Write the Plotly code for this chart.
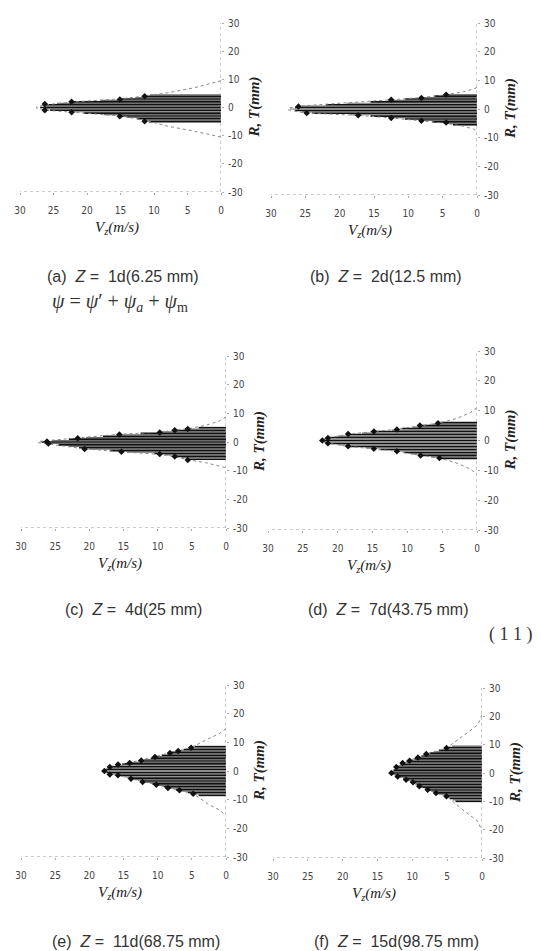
import plotly.graph_objects as go

# ---------------- data ----------------
panel_keys = ["a", "b", "c", "d", "e", "f"]
captions = {
    "a": "(a)  <i>Z</i> =  1d(6.25 mm)",
    "b": "(b)  <i>Z</i> =  2d(12.5 mm)",
    "c": "(c)  <i>Z</i> =  4d(25 mm)",
    "d": "(d)  <i>Z</i> =  7d(43.75 mm)",
    "e": "(e)  <i>Z</i> =  11d(68.75 mm)",
    "f": "(f)  <i>Z</i> =  15d(98.75 mm)",
}
x_ticks = [30, 25, 20, 15, 10, 5, 0]
y_ticks = [-30, -20, -10, 0, 10, 20, 30]

# radial positions (mm) of the measurement lines and the velocity (m/s) reached
R_a = [-5, -4.5, -4, -3.5, -3, -2.5, -2, -1.5, -1, -0.5, 0, 0.5, 1, 1.5, 2, 2.5, 3, 3.5, 4, 4.5]
V_a = [10.8, 11.4, 12.5, 14.0, 15.3, 17.5, 20.5, 22.3, 25.5, 26.4, 27.0, 26.5, 26.2, 24.5, 22.2, 18.0, 15.0, 12.8, 11.4, 10.6]

R_b = [-5.5, -5, -4.5, -4, -3.5, -3, -2.5, -2, -1.5, -1, -0.5, 0, 0.5, 1, 1.5, 2, 2.5, 3, 3.5, 4, 4.5, 5]
V_b = [3.5, 4.5, 6.5, 8.1, 10.5, 12.6, 15.5, 18.5, 24.0, 25.5, 26.5, 27.2, 26.5, 25.5, 22.0, 19.0, 15.5, 13.0, 10.5, 8.0, 6.2, 4.5]

R_c = [-6, -5.5, -5, -4.5, -4, -3.5, -3, -2.5, -2, -1.5, -1, -0.5, 0, 0.5, 1, 1.5, 2, 2.5, 3, 3.5, 4, 4.5, 5]
V_c = [5.8, 6.5, 7.5, 9.0, 10.5, 14.5, 17.0, 20.0, 21.5, 23.0, 24.5, 26.0, 27.0, 25.5, 23.0, 20.5, 18.0, 16.0, 12.5, 9.7, 7.8, 5.6, 4.0]

R_d = [-6, -5.5, -5, -4.5, -4, -3.5, -3, -2.5, -2, -1.5, -1, -0.5, 0, 0.5, 1, 1.5, 2, 2.5, 3, 3.5, 4, 4.5, 5, 5.5, 6]
V_d = [5.2, 6.6, 8.1, 9.5, 10.5, 11.7, 14.0, 16.0, 18.2, 19.8, 21.2, 22.0, 22.5, 22.0, 21.2, 20.0, 18.5, 16.5, 14.8, 12.2, 10.8, 9.2, 8.0, 6.4, 5.2]

R_e = [-8.5, -8, -7.5, -7, -6.5, -6, -5.5, -5, -4.5, -4, -3.5, -3, -2.5, -2, -1.5, -1, -0.5, 0,
       0.5, 1, 1.5, 2, 2.5, 3, 3.5, 4, 4.5, 5, 5.5, 6, 6.5, 7, 7.5, 8, 8.5]
V_e = [4.0, 4.7, 5.6, 6.4, 7.3, 8.4, 9.1, 9.9, 10.8, 11.8, 12.6, 13.4, 14.3, 15.0, 15.8, 17.0, 17.5, 17.8,
       17.6, 17.3, 16.9, 16.2, 15.2, 13.9, 12.8, 12.0, 11.0, 10.3, 9.4, 8.6, 7.9, 7.0, 6.2, 5.3, 4.6]

R_f = [-10, -9.5, -9, -8.5, -8, -7.5, -7, -6.5, -6, -5.5, -5, -4.5, -4, -3.5, -3, -2.5, -2, -1.5, -1, -0.5, 0,
       0.5, 1, 1.5, 2, 2.5, 3, 3.5, 4, 4.5, 5, 5.5, 6, 6.5, 7, 7.5, 8, 8.5, 9, 9.5]
V_f = [3.8, 4.2, 4.6, 4.9, 5.4, 6.2, 6.7, 7.2, 7.7, 8.2, 8.7, 9.1, 9.5, 9.8, 10.3, 10.8, 11.3, 11.8, 12.3, 12.7, 13.0,
       12.9, 12.7, 12.5, 12.3, 12.0, 11.7, 11.4, 10.8, 10.2, 9.7, 9.2, 8.7, 8.2, 7.5, 6.9, 6.2, 5.5, 4.9, 4.3]

# marked measurement points
MV_a = [26.3, 26.3, 22.3, 22.3, 15.1, 15.1, 11.4, 11.4]
MR_a = [1.2, -1.0, 2.0, -1.7, 2.8, -3.1, 4.0, -4.9]
MV_b = [26.0, 24.8, 17.3, 12.5, 12.5, 8.1, 8.1, 4.5, 4.5]
MR_b = [0.9, -1.4, -2.2, 3.2, -3.1, 3.8, -4.1, 5.0, -4.7]
MV_c = [26.2, 26.0, 21.7, 20.7, 15.6, 15.3, 9.7, 9.7, 7.5, 7.5, 5.6, 5.6]
MR_c = [0.2, -0.5, 1.3, -2.4, 2.6, -3.4, 3.3, -4.2, 4.1, -5.1, 4.5, -6.3]
MV_d = [22.2, 21.4, 21.4, 18.5, 18.5, 14.8, 14.8, 11.5, 11.5, 8.2, 8.1, 5.6, 5.4]
MR_d = [0.0, 0.8, -0.9, 2.2, -1.9, 3.0, -2.8, 3.7, -3.6, 5.0, -5.0, 5.8, -5.9]
MV_e = [17.8, 17.0, 15.8, 14.1, 12.4, 10.4, 8.2, 7.0, 5.1, 17.0, 15.8, 13.9, 12.2, 10.2, 8.5, 6.8, 4.8]
MR_e = [0.0, 1.4, 2.3, 2.8, 3.7, 4.9, 6.3, 7.0, 8.1, -1.2, -1.5, -2.7, -3.8, -4.8, -5.9, -6.7, -7.9]
MV_f = [13.0, 12.3, 11.4, 10.4, 9.2, 8.0, 5.1, 12.1, 10.9, 9.9, 9.0, 7.8, 6.6, 5.1]
MR_f = [0.0, 2.1, 3.5, 4.3, 5.5, 6.7, 8.8, -1.2, -2.4, -3.3, -4.7, -5.9, -7.1, -8.2]

# dotted envelope curves (upper end on the axis, through the tip, to lower end)
EV_a = [0, 1.5, 4, 8, 11.5, 15.5, 22, 26, 27.5, 27.5, 26, 22, 15, 11.4, 8, 4, 1.5, 0]
ER_a = [9.5, 8.5, 7.0, 5.2, 4.0, 3.0, 2.0, 1.0, 0.3, -0.3, -1.0, -1.7, -3.0, -4.5, -6.6, -8.4, -9.6, -10.5]
EV_b = [0, 0.5, 2, 4.5, 8, 12.5, 18, 26, 27.5, 27.5, 25, 17.5, 12.5, 8, 4.5, 2, 0.5, 0]
ER_b = [7.5, 7.0, 6.0, 5.0, 4.0, 3.2, 2.2, 1.0, 0.3, -0.3, -1.4, -2.2, -3.1, -4.1, -5.0, -6.0, -7.0, -7.8]
EV_c = [0, 1, 3, 5.6, 7.5, 9.7, 15.6, 21.7, 26, 27.5, 27.5, 26, 20.7, 15.3, 9.7, 7.5, 5.6, 3, 1, 0]
ER_c = [8.8, 7.3, 5.8, 4.6, 4.1, 3.4, 2.7, 1.4, 0.6, 0.2, -0.2, -0.7, -2.4, -3.4, -4.3, -5.1, -6.2, -7.2, -8.3, -9.0]
EV_d = [0, 1, 3, 5.6, 8.2, 11.5, 14.8, 18.5, 21.4, 22.6, 21.4, 18.5, 14.8, 11.5, 8.1, 5.4, 3, 1, 0]
ER_d = [11.0, 9.3, 7.3, 5.8, 4.9, 3.8, 3.0, 2.1, 0.8, 0.0, -0.9, -2.0, -2.8, -3.6, -5.0, -5.9, -7.5, -9.5, -11.3]
EV_e = [0, 1, 2.6, 5.1, 7, 8.2, 10.4, 12.4, 14.1, 15.8, 17, 18, 17, 15.8, 13.9, 12.2, 10.2, 8.5, 6.8, 4.8, 2.6, 1, 0]
ER_e = [14.8, 13.0, 11.2, 8.2, 7.0, 6.3, 4.9, 3.7, 2.9, 2.3, 1.4, 0.0, -1.2, -1.6, -2.7, -3.8, -4.8, -5.9, -6.8, -7.9, -11.6, -13.5, -15.6]
EV_f = [0, 0.6, 2.5, 5.1, 8, 9.2, 10.4, 11.4, 12.3, 13.1, 12.1, 10.9, 9.9, 9.0, 7.8, 6.6, 5.1, 2.5, 0.6, 0]
ER_f = [20.5, 17.0, 13.5, 8.8, 6.7, 5.5, 4.3, 3.5, 2.1, 0.0, -1.2, -2.4, -3.3, -4.7, -5.9, -7.1, -8.2, -13.5, -17.0, -20.5]

data = {
    "a": (R_a, V_a, MV_a, MR_a, EV_a, ER_a),
    "b": (R_b, V_b, MV_b, MR_b, EV_b, ER_b),
    "c": (R_c, V_c, MV_c, MR_c, EV_c, ER_c),
    "d": (R_d, V_d, MV_d, MR_d, EV_d, ER_d),
    "e": (R_e, V_e, MV_e, MR_e, EV_e, ER_e),
    "f": (R_f, V_f, MV_f, MR_f, EV_f, ER_f),
}

# ---------------- layout geometry (pixels) ----------------
W, H = 541, 951
# left, right, top, bottom of each plotting area
geom = {
    "a": (12, 213, 15, 184),
    "b": (263, 469, 15, 187),
    "c": (13, 218, 348, 520),
    "d": (260, 469, 343, 522),
    "e": (13, 218, 677, 849),
    "f": (265, 474, 680, 850),
}
caption_pos = {"a": (115, 268), "b": (378, 268), "c": (125, 601),
               "d": (380, 601), "e": (128, 933), "f": (388, 933)}
vz_dy = 36

def px(x):
    return x / W

def py(y):
    return 1 - y / H

fig = go.Figure()
layout = dict(width=W, height=H, margin=dict(l=0, r=0, t=0, b=0, autoexpand=False),
              paper_bgcolor="white", plot_bgcolor="white", showlegend=False)
annotations = []
shapes = []

tick_font = dict(family="Liberation Sans Narrow, DejaVu Sans Condensed, Arial Narrow, sans-serif",
                 size=10, color="#444")

for i, k in enumerate(panel_keys, start=1):
    R, V, MV, MR, EV, ER = data[k]
    xa = "x" if i == 1 else f"x{i}"
    ya = "y" if i == 1 else f"y{i}"
    l, r, t, b = geom[k]

    # horizontal measurement lines
    bx, by, gx, gy = [], [], [], []
    for j, (rr, vv) in enumerate(zip(R, V)):
        if j % 2 == 0:
            bx += [0, vv, None]; by += [rr, rr, None]
        else:
            gx += [0, vv, None]; gy += [rr, rr, None]
    fig.add_trace(go.Scatter(x=gx, y=gy, mode="lines", line=dict(color="#6e6e6e", width=1.2),
                             xaxis=xa, yaxis=ya, hoverinfo="skip"))
    fig.add_trace(go.Scatter(x=bx, y=by, mode="lines", line=dict(color="#111", width=1.6),
                             xaxis=xa, yaxis=ya, hoverinfo="skip"))
    # envelope
    fig.add_trace(go.Scatter(x=EV, y=ER, mode="lines", line=dict(color="#888", width=1, dash="dot"),
                             xaxis=xa, yaxis=ya, hoverinfo="skip"))
    # markers
    fig.add_trace(go.Scatter(x=MV, y=MR, mode="markers",
                             marker=dict(symbol="diamond", size=5, color="#111"),
                             xaxis=xa, yaxis=ya))

    xkey = "xaxis" if i == 1 else f"xaxis{i}"
    ykey = "yaxis" if i == 1 else f"yaxis{i}"
    layout[xkey] = dict(domain=[px(l), px(r)], range=[30, 0], anchor=ya, automargin=False,
                        tickvals=x_ticks, ticktext=[str(v) for v in x_ticks],
                        ticks="outside", ticklen=2, tickcolor="#aaa",
                        tickfont=tick_font, ticklabelstandoff=7,
                        showgrid=False, zeroline=False, showline=False)
    layout[ykey] = dict(domain=[py(b), py(t)], range=[-30, 30], anchor=xa, side="right",
                        automargin=False,
                        tickvals=y_ticks, ticktext=[str(v) for v in y_ticks],
                        ticks="outside", ticklen=2, tickcolor="#aaa",
                        tickfont=tick_font, ticklabelstandoff=2,
                        showgrid=False, zeroline=False, showline=False)
    # dotted axis lines
    shapes.append(dict(type="line", xref=xa, yref=ya, x0=0, x1=0, y0=-30, y1=30,
                       line=dict(color="#999", width=1, dash="dot")))
    shapes.append(dict(type="line", xref=xa, yref=ya, x0=30.3, x1=0, y0=-30, y1=-30,
                       line=dict(color="#999", width=1, dash="dot")))

    # axis titles
    annotations.append(dict(x=px((l + r) / 2 - 4), y=py(b + vz_dy), xref="paper", yref="paper",
                            xanchor="center", yanchor="middle",
                            text="<i>V<sub>z</sub>(m/s)</i>", showarrow=False,
                            font=dict(family="Liberation Serif, DejaVu Serif, serif", size=15, color="#222")))
    annotations.append(dict(x=px(r + 33), y=py((t + b) / 2), xref="paper", yref="paper",
                            xanchor="center", yanchor="middle",
                            text="<b><i>R, T(mm)</i></b>", textangle=-90, showarrow=False,
                            font=dict(family="Liberation Serif, DejaVu Serif, serif", size=15, color="#222")))
    cx, cy = caption_pos[k]
    annotations.append(dict(x=px(cx), y=py(cy), xref="paper", yref="paper",
                            xanchor="center", yanchor="middle",
                            text=captions[k], showarrow=False,
                            font=dict(family="Liberation Sans, Arial, sans-serif", size=16, color="#333")))

annotations.append(dict(x=px(112), y=py(294), xref="paper", yref="paper",
                        xanchor="center", yanchor="middle",
                        text="<i>ψ</i> = <i>ψ</i>′ + <i>ψ</i><sub><i>a</i></sub> + <i>ψ</i><sub>m</sub>",
                        showarrow=False,
                        font=dict(family="Liberation Serif, DejaVu Serif, serif", size=20, color="#333")))
annotations.append(dict(x=px(503), y=py(626), xref="paper", yref="paper",
                        xanchor="center", yanchor="middle",
                        text="( 1 1 )", showarrow=False,
                        font=dict(family="Liberation Serif, DejaVu Serif, serif", size=18, color="#333")))

layout["annotations"] = annotations
layout["shapes"] = shapes
fig.update_layout(**layout)
fig.write_html("out.html")
